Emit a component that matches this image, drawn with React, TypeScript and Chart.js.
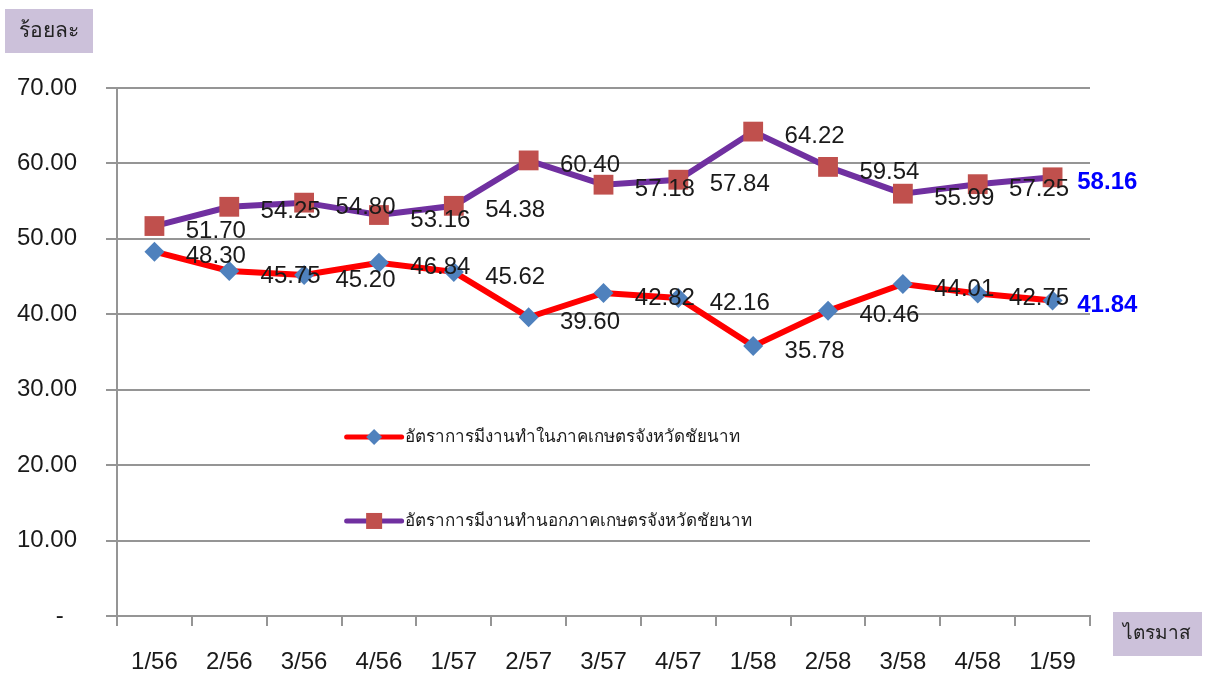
import React, { useEffect, useRef } from "react";
import { Chart, registerables } from "chart.js";

Chart.register(...registerables);

const quarters = ["1/56", "2/56", "3/56", "4/56", "1/57", "2/57", "3/57", "4/57", "1/58", "2/58", "3/58", "4/58", "1/59"];
const farmRate = [48.3, 45.75, 45.2, 46.84, 45.62, 39.6, 42.82, 42.16, 35.78, 40.46, 44.01, 42.75, 41.84];
const nonFarmRate = [51.7, 54.25, 54.8, 53.16, 54.38, 60.4, 57.18, 57.84, 64.22, 59.54, 55.99, 57.25, 58.16];
const farmLabel = "อัตราการมีงานทำในภาคเกษตรจังหวัดชัยนาท";
const nonFarmLabel = "อัตราการมีงานทำนอกภาคเกษตรจังหวัดชัยนาท";
const yTitle = "ร้อยละ";
const xTitle = "ไตรมาส";
const yMin = 0;
const yMax = 70;
const yStep = 10;

const FONT = "'Liberation Sans', 'Noto Sans', sans-serif";
const GRID = "#959595";
const RED = "#ff0000";
const PURPLE = "#7030a0";
const DIAMOND = "#4f81bd";
const SQUARE = "#c0504d";
const BOX = "#ccc1da";

const dataLabelPlugin = {
  id: "dataLabels",
  afterDatasetsDraw(chart: any) {
    const ctx = chart.ctx;
    const xs = chart.scales.x;
    const step = xs.getPixelForValue(1) - xs.getPixelForValue(0);
    chart.data.datasets.forEach((ds: any, di: number) => {
      const meta = chart.getDatasetMeta(di);
      meta.data.forEach((pt: any, i: number) => {
        const v = ds.data[i] as number;
        const last = i === ds.data.length - 1;
        ctx.save();
        ctx.textBaseline = "middle";
        if (last) {
          ctx.font = `bold 24px ${FONT}`;
          ctx.fillStyle = "#0000ff";
          ctx.textAlign = "left";
          ctx.fillText(v.toFixed(2), pt.x + step * 0.33, pt.y + 5);
        } else {
          ctx.font = `24px ${FONT}`;
          ctx.fillStyle = "#1a1a1a";
          ctx.textAlign = "center";
          ctx.fillText(v.toFixed(2), pt.x + step * 0.82, pt.y + 5);
        }
        ctx.restore();
      });
    });
  },
};

const decorPlugin = {
  id: "decor",
  afterDraw(chart: any) {
    const ctx = chart.ctx;
    const a = chart.chartArea;
    const w = a.right - a.left;
    const h = a.bottom - a.top;
    ctx.save();
    // axis title boxes
    ctx.fillStyle = BOX;
    ctx.fillRect(5, 9, 88, 44);
    ctx.fillRect(1113, 612, 89, 44);
    ctx.fillStyle = "#222";
    ctx.textAlign = "center";
    ctx.textBaseline = "middle";
    ctx.font = `21px ${FONT}`;
    ctx.fillText(yTitle, 49, 31);
    ctx.font = `19px ${FONT}`;
    ctx.fillText(xTitle, 1157, 634);

    // legend
    const items = [
      { label: farmLabel, line: RED, marker: DIAMOND, style: "diamond", fy: 0.661 },
      { label: nonFarmLabel, line: PURPLE, marker: SQUARE, style: "square", fy: 0.82 },
    ];
    items.forEach((it) => {
      const x0 = a.left + w * 0.236;
      const x1 = x0 + 55;
      const y = a.top + h * it.fy;
      ctx.strokeStyle = it.line;
      ctx.lineWidth = 5;
      ctx.lineCap = "round";
      ctx.beginPath();
      ctx.moveTo(x0, y);
      ctx.lineTo(x1, y);
      ctx.stroke();
      const cx = (x0 + x1) / 2;
      ctx.fillStyle = it.marker;
      if (it.style === "diamond") {
        ctx.beginPath();
        ctx.moveTo(cx - 8, y);
        ctx.lineTo(cx, y - 8);
        ctx.lineTo(cx + 8, y);
        ctx.lineTo(cx, y + 8);
        ctx.closePath();
        ctx.fill();
      } else {
        ctx.fillRect(cx - 8, y - 8, 16, 16);
      }
      ctx.fillStyle = "#1a1a1a";
      ctx.font = `17px ${FONT}`;
      ctx.textAlign = "left";
      ctx.textBaseline = "middle";
      ctx.fillText(it.label, x1 + 3, y);
    });
    ctx.restore();
  },
};

export default function App() {
  const ref = useRef<HTMLCanvasElement>(null);
  useEffect(() => {
    document.body.style.margin = "0";
    const chart = new Chart(ref.current as HTMLCanvasElement, {
      type: "line",
      data: {
        labels: quarters,
        datasets: [
          {
            label: farmLabel,
            data: farmRate,
            borderColor: RED,
            borderWidth: 6,
            backgroundColor: DIAMOND,
            pointStyle: "rectRot",
            pointRadius: 10,
            pointBackgroundColor: DIAMOND,
            pointBorderColor: DIAMOND,
            pointBorderWidth: 0,
            tension: 0,
          },
          {
            label: nonFarmLabel,
            data: nonFarmRate,
            borderColor: PURPLE,
            borderWidth: 6,
            backgroundColor: SQUARE,
            pointStyle: "rect",
            pointRadius: 14,
            pointBackgroundColor: SQUARE,
            pointBorderColor: SQUARE,
            pointBorderWidth: 0,
            tension: 0,
          },
        ],
      },
      options: {
        responsive: false,
        animation: false,
        layout: { padding: { top: 88, right: 118, left: 0, bottom: 0 } },
        plugins: {
          legend: { display: false },
          tooltip: { enabled: false },
          title: { display: false },
        },
        scales: {
          x: {
            type: "category",
            offset: true,
            grid: {
              display: true,
              drawOnChartArea: false,
              drawTicks: true,
              tickLength: 10,
              offset: true,
              color: GRID,
              lineWidth: 2,
            },
            border: { display: true, color: GRID, width: 2 },
            ticks: {
              color: "#1a1a1a",
              font: { family: FONT, size: 24 },
              padding: 22,
              maxRotation: 0,
              autoSkip: false,
            },
            afterFit: (s: any) => {
              s.height = 58;
            },
          },
          y: {
            min: yMin,
            max: yMax,
            ticks: {
              stepSize: yStep,
              color: "#1a1a1a",
              font: { family: FONT, size: 24 },
              padding: 29,
              callback: (v: any) => (Number(v) === 0 ? "-  " : Number(v).toFixed(2)),
            },
            grid: { color: GRID, lineWidth: 2, tickLength: 11, drawTicks: true },
            border: { display: true, color: GRID, width: 2 },
            afterFit: (s: any) => {
              s.width = 117;
            },
          },
        },
      },
      plugins: [dataLabelPlugin, decorPlugin],
    } as any);
    return () => chart.destroy();
  }, []);
  return (
    <div style={{ width: 1208, height: 674, position: "relative", overflow: "hidden" }}>
      <canvas ref={ref} width={1208} height={674} style={{ display: "block" }} />
    </div>
  );
}
